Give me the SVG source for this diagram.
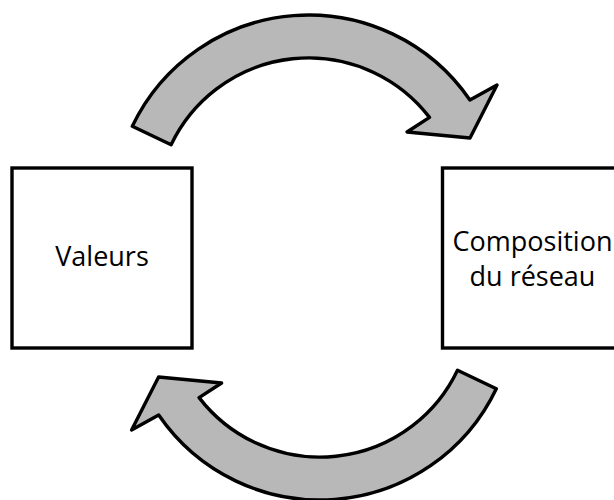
<svg xmlns="http://www.w3.org/2000/svg" width="614" height="500" viewBox="0 0 614 500">
  <style>
    .box { fill: #ffffff; stroke: #000000; stroke-width: 3.4; }
    .label { font-family: "Open Sans", "Noto Sans", "Liberation Sans", sans-serif; font-size: 27px; fill: #000000; text-anchor: middle; }
    .arrow { fill: #b8b8b8; stroke: #000000; stroke-width: 3.4; stroke-linejoin: round; }
  </style>
  <defs>
    <path id="curvedArrow" d="M 132.3 126.3 A 195.4 195.4 0 0 1 469.9 100 L 497 85 L 470 138 L 407 132 L 429.5 117.4 A 152.4 152.4 0 0 0 171.1 144.8 Z"/>
  </defs>
  <g id="connectors">
    <use id="arrow-top" href="#curvedArrow" class="arrow"/>
    <use id="arrow-bottom" href="#curvedArrow" class="arrow" transform="rotate(180 314.3 257.5)"/>
  </g>
  <g id="node-valeurs">
    <rect class="box" x="12" y="168" width="180" height="180"/>
    <text class="label" x="102" y="266">Valeurs</text>
  </g>
  <g id="node-composition">
    <rect class="box" x="442.5" y="168" width="180" height="180"/>
    <text class="label" x="532.5" y="251">Composition</text>
    <text class="label" x="532.5" y="286">du réseau</text>
  </g>
</svg>
